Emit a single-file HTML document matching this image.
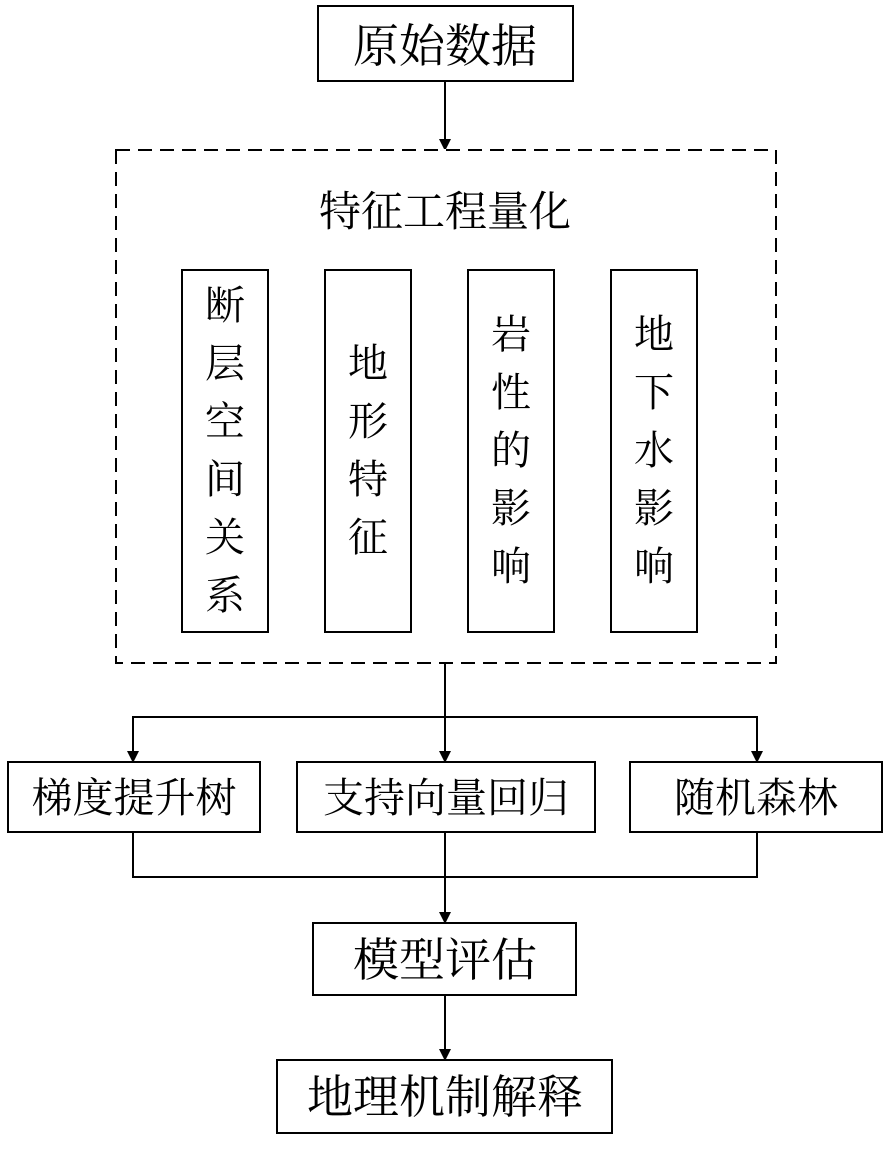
<!DOCTYPE html>
<html><head><meta charset="utf-8"><style>
body{margin:0;background:#fff;}
.t{font-family:"Liberation Serif","Noto Serif CJK SC",serif;fill:#000;text-anchor:middle}
</style></head><body>
<svg width="886" height="1153" viewBox="0 0 886 1153" xmlns="http://www.w3.org/2000/svg">
<defs><marker id="a" markerWidth="10" markerHeight="14" refX="10" refY="6" orient="auto" markerUnits="userSpaceOnUse"><path d="M0,0 L12,6 L0,12 z" fill="#000"/></marker></defs>
<g fill="none" stroke="#000" stroke-width="2">
<rect x="318" y="6" width="255" height="75"/>
<line x1="445" y1="81" x2="445" y2="149" marker-end="url(#a)"/>
<rect x="116" y="150" width="660" height="513" stroke-dasharray="14,8"/>
<rect x="182" y="270" width="86" height="362"/>
<rect x="325" y="270" width="86" height="362"/>
<rect x="468" y="270" width="86" height="362"/>
<rect x="611" y="270" width="86" height="362"/>
<line x1="445" y1="663" x2="445" y2="761" marker-end="url(#a)"/>
<polyline points="133,761 133,717 757,717 757,761" marker-end="url(#a)"/>
<line x1="133" y1="717" x2="133" y2="761" marker-end="url(#a)"/>
<rect x="8" y="762" width="252" height="70"/>
<rect x="297" y="762" width="298" height="70"/>
<rect x="630" y="762" width="252" height="70"/>
<polyline points="133,832 133,877 757,877 757,832"/>
<line x1="445" y1="832" x2="445" y2="922" marker-end="url(#a)"/>
<rect x="313" y="923" width="263" height="72"/>
<line x1="445" y1="995" x2="445" y2="1059" marker-end="url(#a)"/>
<rect x="277" y="1060" width="335" height="73"/>
</g>
<text class="t" x="445" y="62" font-size="46">原始数据</text>
<text class="t" x="445" y="226" font-size="42">特征工程量化</text>
<g font-size="40">
<text class="t" x="225" y="319">断</text><text class="t" x="225" y="377">层</text><text class="t" x="225" y="435">空</text><text class="t" x="225" y="493">间</text><text class="t" x="225" y="551">关</text><text class="t" x="225" y="609">系</text>
<text class="t" x="368" y="377">地</text><text class="t" x="368" y="435">形</text><text class="t" x="368" y="493">特</text><text class="t" x="368" y="551">征</text>
<text class="t" x="511" y="348">岩</text><text class="t" x="511" y="406">性</text><text class="t" x="511" y="464">的</text><text class="t" x="511" y="522">影</text><text class="t" x="511" y="580">响</text>
<text class="t" x="654" y="348">地</text><text class="t" x="654" y="406">下</text><text class="t" x="654" y="464">水</text><text class="t" x="654" y="522">影</text><text class="t" x="654" y="580">响</text>
<text class="t" x="134" y="812" font-size="41">梯度提升树</text>
<text class="t" x="446" y="812" font-size="41">支持向量回归</text>
<text class="t" x="756" y="812" font-size="41">随机森林</text>
</g>
<text class="t" x="445" y="976" font-size="46">模型评估</text>
<text class="t" x="445" y="1113" font-size="46">地理机制解释</text>
</svg>
</body></html>
